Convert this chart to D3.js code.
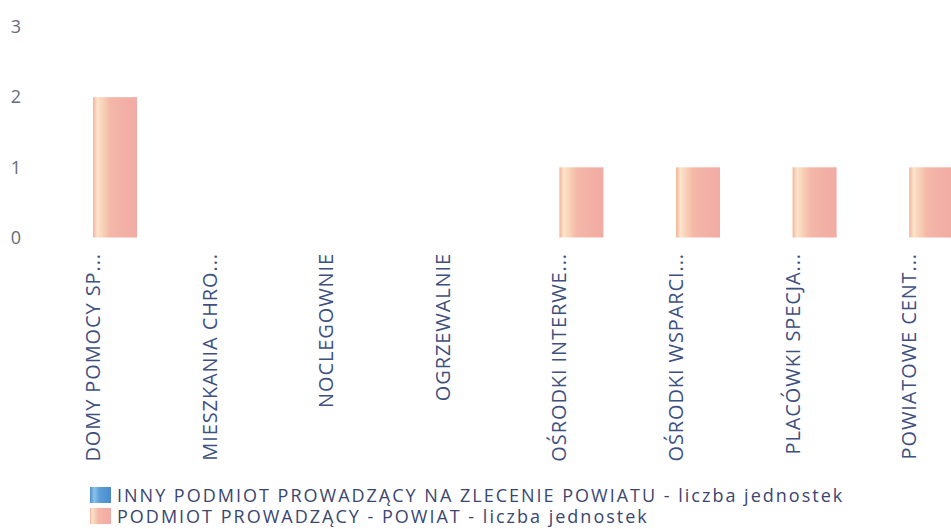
<!DOCTYPE html>
<html>
<head>
<meta charset="utf-8">
<script src="https://cdn.jsdelivr.net/npm/d3@7"></script>
<style>
	body { margin: 0; background: #fff; }
	text { font-family: "Open Sans", sans-serif; }
</style>
</head>
<body>
<div id="chart-area"></div>
<script>
/* data */
const categories = ['DOMY POMOCY SP...', 'MIESZKANIA CHRO...', 'NOCLEGOWNIE', 'OGRZEWALNIE',
	'OŚRODKI INTERWE...', 'OŚRODKI WSPARCI...', 'PLACÓWKI SPECJA...', 'POWIATOWE CENT...']
const seriesNames = ['INNY PODMIOT PROWADZĄCY NA ZLECENIE POWIATU - liczba jednostek',
	'PODMIOT PROWADZĄCY - POWIAT - liczba jednostek']
const innyValues = [0, 0, 0, 0, 0, 0, 0, 0]
const powiatValues = [2, 0, 0, 0, 1, 1, 1, 1]
const yTicks = [0, 1, 2, 3]

const seriesValues = [innyValues, powiatValues]
const rows = categories.map((c, i) => ({
	category: c,
	values: seriesNames.map((s, j) => ({ series: s, value: seriesValues[j][i] }))
}))

/* canvas */
const CANVAS_WIDTH = 951
const CANVAS_HEIGHT = 529

const $svg = d3.select('#chart-area')
	.append('svg')
	.attr('width', CANVAS_WIDTH)
	.attr('height', CANVAS_HEIGHT)

// striped-looking fills
const defs = $svg.append('defs')
const gradients = [
	{ id: 'fill-0', stops: [['0%', '#4f8fcf'], ['20%', '#8cc2ea'], ['45%', '#5c9fd8'], ['100%', '#4a8acb']] },
	{ id: 'fill-1', stops: [['0%', '#f2b39a'], ['10%', '#fbe4cc'], ['22%', '#f8d2b8'], ['40%', '#f4b7a8'], ['70%', '#f3b0a6'], ['100%', '#f1aba3']] }
]
gradients.forEach(g => {
	const lg = defs.append('linearGradient').attr('id', g.id)
		.attr('x1', '0%').attr('x2', '100%').attr('y1', '0%').attr('y2', '0%')
	g.stops.forEach(s => lg.append('stop').attr('offset', s[0]).attr('stop-color', s[1]))
})

/* scales */
const step = 116.6
const firstCenter = 93
const x0 = d3.scaleBand()
	.domain(categories)
	.range([firstCenter - step / 2, firstCenter + step * (categories.length - 0.5)])
	.padding(0)

const x1 = d3.scaleBand()
	.domain(seriesNames)
	.range([-44, 44])

const y = d3.scaleLinear()
	.domain([0, 3])
	.range([237.5, 27])

const color = d3.scaleOrdinal()
	.domain(seriesNames)
	.range(['url(#fill-0)', 'url(#fill-1)'])

/* y axis: labels only */
const yAxisCall = d3.axisLeft(y)
	.tickValues(yTicks)
	.tickSize(0)
	.tickPadding(0)
	.tickFormat(d3.format('d'))

const $yAxis = $svg.append('g')
	.attr('transform', 'translate(21, 0)')
	.call(yAxisCall)
$yAxis.select('.domain').remove()
$yAxis.selectAll('text')
	.attr('font-family', '"Open Sans", sans-serif')
	.attr('font-size', 18)
	.attr('fill', '#646b7e')

/* bars */
const $groups = $svg.append('g')
	.selectAll('g')
	.data(rows)
	.enter()
	.append('g')
	.attr('transform', d => `translate(${x0(d.category) + x0.bandwidth() / 2}, 0)`)

$groups.selectAll('rect')
	.data(d => d.values)
	.enter()
	.append('rect')
	.attr('x', d => x1(d.series))
	.attr('width', x1.bandwidth())
	.attr('y', d => y(d.value))
	.attr('height', d => y(0) - y(d.value))
	.attr('fill', d => color(d.series))

/* x axis: rotated labels */
const xAxisCall = d3.axisBottom(x0)
	.tickSize(0)
	.tickPadding(0)

const $xAxis = $svg.append('g')
	.attr('transform', 'translate(0, 253)')
	.call(xAxisCall)
$xAxis.select('.domain').remove()
$xAxis.selectAll('text')
	.attr('font-family', '"Open Sans", sans-serif')
	.attr('font-size', 20)
	.attr('letter-spacing', 0.9)
	.attr('fill', '#3e5080')
	.attr('text-anchor', 'end')
	.attr('transform', 'rotate(-90)')
	.attr('x', 0)
	.attr('y', 0)
	.attr('dy', '0.35em')

/* legend */
const $legend = $svg.append('g')
	.attr('transform', 'translate(90, 487)')

const $items = $legend.selectAll('g')
	.data(seriesNames)
	.enter()
	.append('g')
	.attr('transform', (d, i) => `translate(0, ${i * 21})`)

$items.append('rect')
	.attr('width', 21)
	.attr('height', 16)
	.attr('fill', d => color(d))

$items.append('text')
	.attr('x', 27)
	.attr('y', 14.5)
	.attr('font-size', 18)
	.attr('letter-spacing', 2)
	.attr('fill', '#3a4670')
	.text(d => d)
</script>
</body>
</html>
